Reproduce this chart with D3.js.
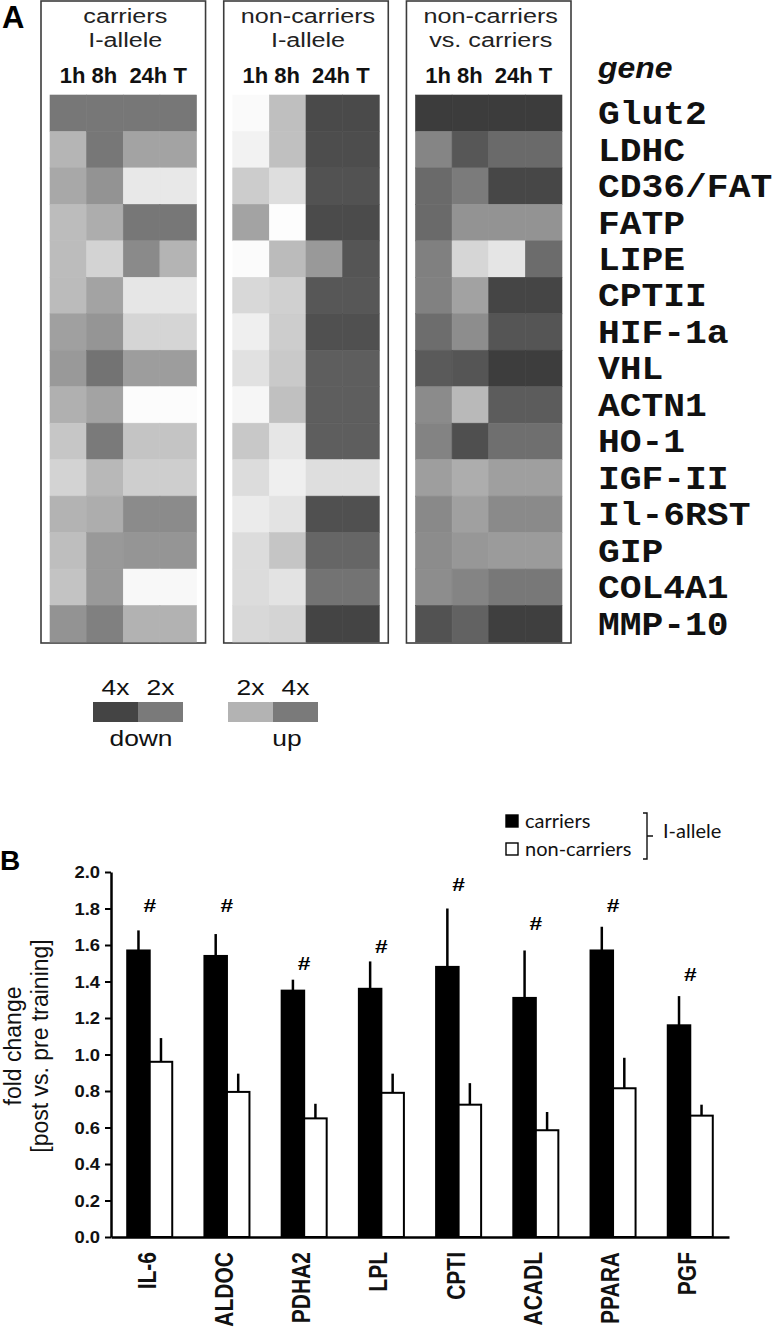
<!DOCTYPE html>
<html><head><meta charset="utf-8">
<script src="https://cdn.jsdelivr.net/npm/d3@7"></script>
<style>body{margin:0;background:#fff}svg{display:block}</style>
</head><body>
<svg id="chart" width="774" height="1329"></svg>
<script>
// ---------- Panel A data ----------
const genes = ['Glut2','LDHC','CD36/FAT','FATP','LIPE','CPTII','HIF-1a','VHL','ACTN1','HO-1','IGF-II','Il-6RST','GIP','COL4A1','MMP-10'];
const timepoints = ['1h','8h','24h','T'];
const panelTitles = [['carriers','I-allele'],['non-carriers','I-allele'],['non-carriers','vs. carriers']];
// grey level (0 = black, 255 = white), rows = genes, cols = timepoints
const shadeCarriers = [
  [119,119,119,119],[181,119,163,163],[168,147,232,232],[188,173,119,119],[188,211,138,180],
  [187,163,230,230],[160,149,213,213],[153,115,157,157],[176,163,252,252],[198,122,196,196],
  [211,184,206,206],[179,173,139,139],[190,153,149,149],[195,153,248,248],[147,128,178,178]];
const shadeNonCarriers = [
  [250,191,74,74],[242,192,77,77],[204,222,82,82],[163,253,75,75],[251,187,153,85],
  [216,208,87,87],[239,205,80,80],[225,201,94,94],[246,192,94,94],[200,230,94,94],
  [220,239,222,222],[235,227,80,80],[220,197,102,102],[220,227,115,115],[216,212,68,68]];
const shadeDiff = [
  [60,60,60,60],[133,87,106,106],[106,123,71,71],[106,147,147,147],[128,214,229,108],
  [129,162,69,69],[109,141,85,85],[90,85,61,61],[139,185,92,92],[131,79,111,111],
  [158,173,159,159],[137,160,138,138],[140,151,155,155],[141,132,120,120],[82,98,63,63]];
const legendDown = ['4x','2x'];
const legendDownShade = [68,122];
const legendUp = ['2x','4x'];
const legendUpShade = [179,122];

// ---------- Panel B data ----------
const barGenes = ['IL-6','ALDOC','PDHA2','LPL','CPTI','ACADL','PPARA','PGF'];
const seriesNames = ['carriers','non-carriers'];
const carriersMean = [1.57,1.54,1.35,1.36,1.48,1.31,1.57,1.16];
const carriersUpper = [1.68,1.66,1.41,1.51,1.80,1.57,1.70,1.32];
const nonCarriersMean = [0.96,0.795,0.65,0.79,0.725,0.585,0.815,0.665];
const nonCarriersUpper = [1.09,0.895,0.73,0.895,0.843,0.685,0.982,0.725];
const hashLevel = [1.815,1.815,1.50,1.59,1.93,1.72,1.82,1.44];
const yTicks = [0,0.2,0.4,0.6,0.8,1.0,1.2,1.4,1.6,1.8,2.0];

const SANS = "'Liberation Sans', Arial, sans-serif";
const svg = d3.select('#chart');
svg.append('rect').attr('width',774).attr('height',1329).attr('fill','#fff');

function stext(parent, x, y, str, sx) {
  return parent.append('text').attr('transform', `translate(${x},${y}) scale(${sx},1)`).text(str);
}

// ================= Panel A =================
const grey = d3.scaleLinear().domain([0,255]).range(['#000','#fff']);
const panelX = d3.scaleBand().domain(d3.range(3)).range([50,562]).paddingInner(0.198);
const rowY = d3.scaleBand().domain(genes).range([95,642]);
const colX = d3.scaleBand().domain(timepoints).range([0, panelX.bandwidth()]);
const bwP = panelX.bandwidth();
const panelShades = [shadeCarriers, shadeNonCarriers, shadeDiff];

stext(svg, 2, 28, 'A', 1).attr('font-family', SANS).attr('font-weight','bold').attr('font-size',31);

panelShades.forEach((shades, p) => {
  const g = svg.append('g').attr('transform', `translate(${panelX(p)},0)`);
  g.append('rect').attr('x',-9).attr('y',1).attr('width',bwP+18).attr('height',642)
    .attr('fill','none').attr('stroke','#3c3c3c').attr('stroke-width',1.6);
  const cells = [];
  genes.forEach((gene,i) => timepoints.forEach((t,j) => cells.push({gene, t, v: shades[i][j]})));
  g.selectAll('rect.cell').data(cells).join('rect').attr('class','cell')
    .attr('x', d => colX(d.t)).attr('y', d => rowY(d.gene))
    .attr('width', colX.bandwidth()).attr('height', rowY.bandwidth())
    .attr('fill', d => grey(d.v)).attr('stroke', d => grey(d.v)).attr('stroke-width',0.6);
  panelTitles[p].forEach((line,k) => {
    stext(g, bwP/2 + 2, [23,47][k], line, 1.2)
      .attr('text-anchor','middle').attr('font-family',SANS).attr('font-size',21).attr('fill','#222');
  });
  stext(g, bwP/2, 83, timepoints.slice(0,2).join(' ') + '  ' + timepoints.slice(2).join(' '), 1)
    .attr('text-anchor','middle').attr('font-family',SANS).attr('font-weight','bold')
    .attr('font-size',22).attr('fill','#111').style('white-space','pre');
});

stext(svg, 598, 78, 'gene', 1.1).attr('font-family',SANS).attr('font-weight','bold')
  .attr('font-style','italic').attr('font-size',29).attr('fill','#111');
svg.append('g').selectAll('text').data(genes).join('text')
  .attr('transform', d => `translate(598,${rowY(d) + rowY.bandwidth()/2}) scale(1.1,1)`)
  .attr('dy','0.33em').attr('font-family',"'Liberation Mono','Courier New',monospace")
  .attr('font-weight','bold').attr('font-size',33).attr('fill','#111').text(d => d);

// colour legend
function drawLegend(labels, shades, x0, x1, word, wordX) {
  const lx = d3.scaleBand().domain(labels).range([x0,x1]);
  const g = svg.append('g');
  g.selectAll('rect').data(labels).join('rect')
    .attr('x', d => lx(d)).attr('y',702).attr('width',lx.bandwidth()).attr('height',20)
    .attr('fill', (d,i) => grey(shades[i]));
  labels.forEach(d => stext(g, lx(d)+lx.bandwidth()/2, 695, d, 1.2)
    .attr('text-anchor','middle').attr('font-family',SANS).attr('font-size',22).attr('fill','#111'));
  stext(g, wordX, 746, word, 1.2).attr('text-anchor','middle').attr('font-family',SANS)
    .attr('font-size',22).attr('fill','#111');
}
drawLegend(legendDown, legendDownShade, 93, 183, 'down', 141);
drawLegend(legendUp, legendUpShade, 228, 318, 'up', 287);

// ================= Panel B =================
const y = d3.scaleLinear().domain([0,2]).range([1237,872]);
const x0 = d3.scaleBand().domain(barGenes).range([111,729]).paddingInner(0.417).paddingOuter(0.21);
const x1 = d3.scaleBand().domain(seriesNames).range([0, x0.bandwidth()]);

stext(svg, 0, 870, 'B', 1).attr('font-family',SANS).attr('font-weight','bold').attr('font-size',28);

const barData = barGenes.map((g,i) => [
  {gene:g, s:'carriers', v:carriersMean[i], up:carriersUpper[i]},
  {gene:g, s:'non-carriers', v:nonCarriersMean[i], up:nonCarriersUpper[i]}]).flat();

const bars = svg.append('g');
bars.selectAll('line').data(barData).join('line')
  .attr('x1', d => x0(d.gene)+x1(d.s)+x1.bandwidth()/2).attr('x2', d => x0(d.gene)+x1(d.s)+x1.bandwidth()/2)
  .attr('y1', d => y(d.v)).attr('y2', d => y(d.up)).attr('stroke','#000').attr('stroke-width',2.5);
bars.selectAll('rect').data(barData).join('rect')
  .attr('x', d => x0(d.gene)+x1(d.s)).attr('y', d => y(d.v))
  .attr('width', x1.bandwidth()).attr('height', d => y(0)-y(d.v))
  .attr('fill', d => d.s === 'carriers' ? '#000' : '#fff').attr('stroke','#000').attr('stroke-width',2);

svg.append('g').selectAll('text').data(barGenes).join('text')
  .attr('transform', (d,i) => `translate(${x0(d)+x0.bandwidth()/2},${y(hashLevel[i])}) scale(1.2,1)`)
  .attr('dy','0.35em').attr('text-anchor','middle').attr('font-family',SANS)
  .attr('font-weight','bold').attr('font-size',19).text('#');

// axes
const yAxis = svg.append('g').attr('transform','translate(111,0)')
  .call(d3.axisLeft(y).tickValues(yTicks).tickFormat(d3.format('.1f')).tickSize(6).tickSizeOuter(0));
yAxis.select('.domain').attr('stroke-width',2.5);
yAxis.selectAll('.tick line').attr('stroke-width',2);
yAxis.selectAll('.tick text').attr('font-family',SANS).attr('font-weight','bold').attr('font-size',16)
  .attr('fill','#111').attr('transform','scale(1.15,1)').attr('x',-9.5).attr('dy','0.36em');

const xAxis = svg.append('g').attr('transform','translate(0,1237)')
  .call(d3.axisBottom(x0).tickSize(0).tickSizeOuter(0));
xAxis.select('.domain').attr('stroke-width',2.5);
xAxis.selectAll('.tick text').attr('y',null).attr('dy','0.36em').attr('x',null)
  .attr('transform','translate(-3,15) scale(1.2,1) rotate(-90)').attr('text-anchor','end')
  .attr('font-family',SANS).attr('font-weight','bold').attr('font-size',21).attr('fill','#111');

// y title
const yTitle = svg.append('text').attr('transform','translate(0,1046) rotate(-90)')
  .attr('text-anchor','middle').attr('font-family',SANS).attr('font-size',23).attr('fill','#111');
yTitle.append('tspan').attr('x',0).attr('y',21).text('fold change');
yTitle.append('tspan').attr('x',0).attr('y',48).text('[post vs. pre training]');

// legend B
const LEG = "Lato, 'Open Sans', sans-serif";
const legY = d3.scaleBand().domain(seriesNames).range([807,863]);
const lg = svg.append('g');
lg.selectAll('rect').data(seriesNames).join('rect')
  .attr('x',506).attr('y', d => legY(d)+legY.bandwidth()/2-6).attr('width',12).attr('height',12)
  .attr('fill', d => d === 'carriers' ? '#000' : '#fff').attr('stroke','#000').attr('stroke-width',1.4);
lg.selectAll('text').data(seriesNames).join('text')
  .attr('x',525).attr('y', d => legY(d)+legY.bandwidth()/2).attr('dy','0.35em')
  .attr('font-family',LEG).attr('font-size',20).attr('fill','#111').text(d => d);
lg.append('path').attr('d','M643,813 H647 V859 H643 M647,836 H653')
  .attr('fill','none').attr('stroke','#111').attr('stroke-width',1.4);
lg.append('text').attr('x',663).attr('y',838).attr('font-family',LEG).attr('font-size',20)
  .attr('fill','#111').text('I-allele');
</script>
</body></html>
